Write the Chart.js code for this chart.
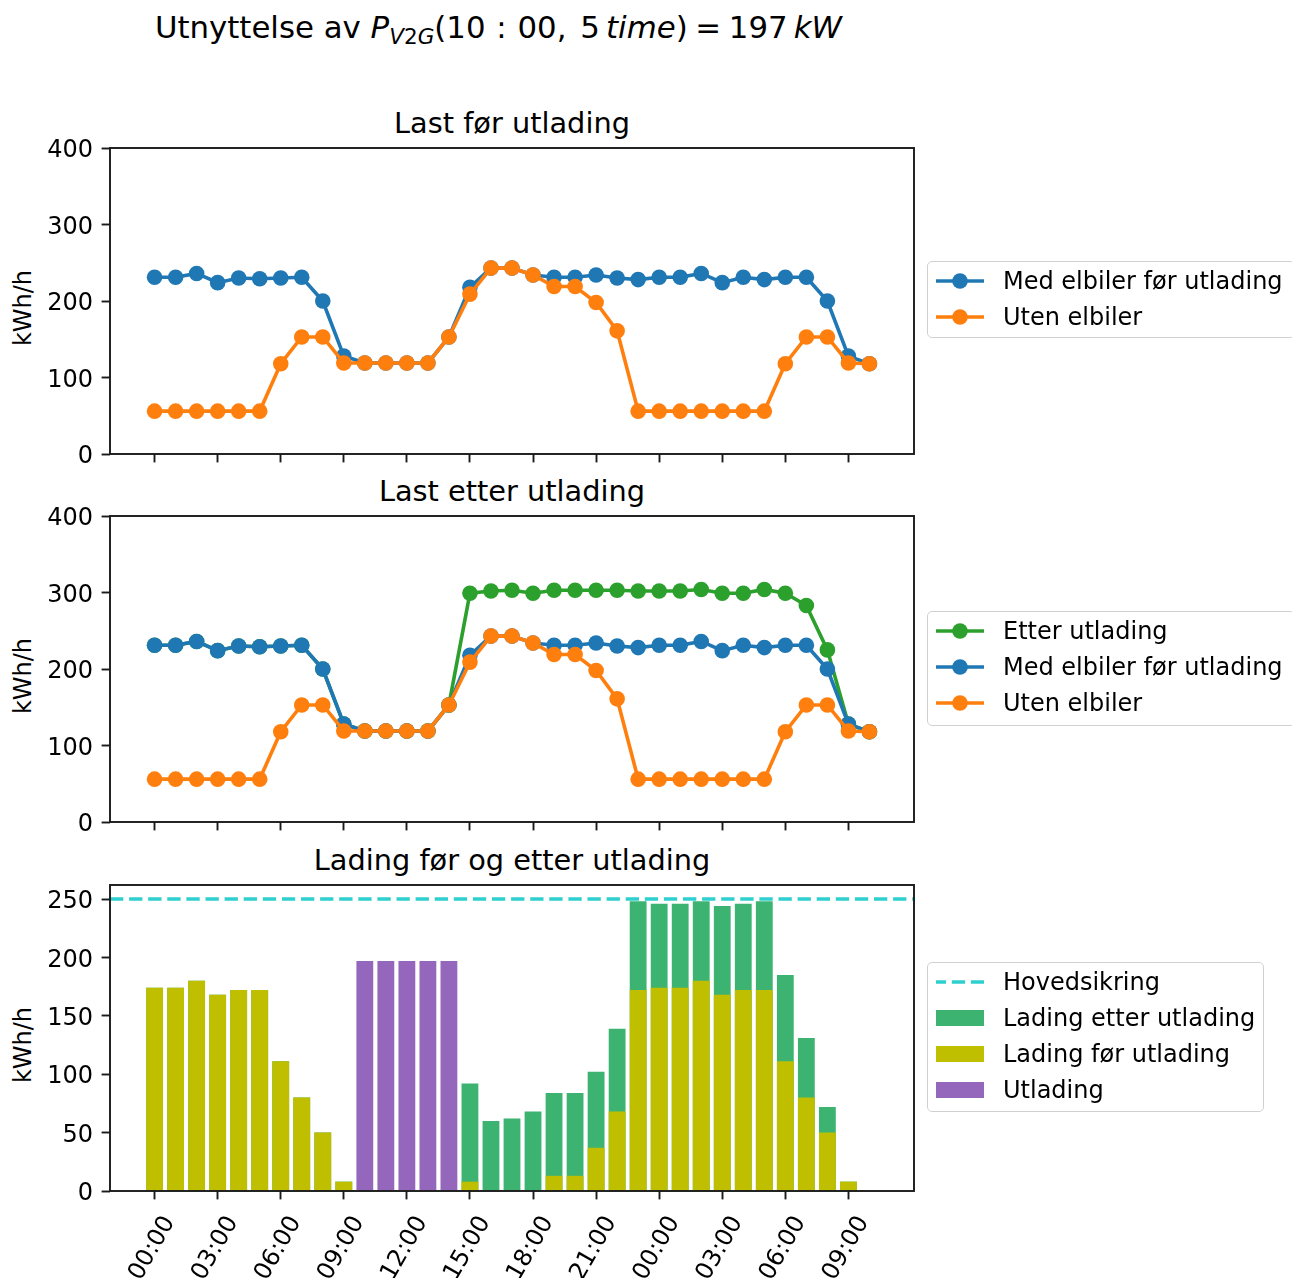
<!DOCTYPE html>
<html>
<head>
<meta charset="utf-8">
<title>Utnyttelse av V2G</title>
<script src="https://cdn.jsdelivr.net/npm/chart.js@4.4.1/dist/chart.umd.min.js"></script>
<style>
  html, body { margin: 0; padding: 0; background: #fff; }
  body { width: 1292px; height: 1278px; position: relative; overflow: hidden;
         font-family: 'DejaVu Sans', sans-serif; color: #000; }
  canvas { position: absolute; left: 0; }
  #suptitle { position: absolute; left: 0; width: 997px; top: 11.9px; text-align: center;
              font-size: 30.8px; line-height: 30.8px; white-space: nowrap; }
  #suptitle .m { font-style: italic; }
  #suptitle sub { font-size: 0.7em; vertical-align: -0.3em; line-height: 0; }
  .title { position: absolute; left: 110px; width: 804px; text-align: center;
           font-size: 28.8px; line-height: 28.8px; white-space: nowrap; }
  .ylabel { position: absolute; left: -36.7px; width: 120px; height: 24px; line-height: 24px;
            font-size: 24px; text-align: center; transform: rotate(-90deg); white-space: nowrap; }
  .legend { position: absolute; left: 927px; box-sizing: border-box; padding-top: 1px;
            background: rgba(255,255,255,0.8); border: 1.5px solid #d0d0d0; border-radius: 5px; }
  .row { height: 36px; display: flex; align-items: center; font-size: 24px; white-space: nowrap; }
  .row svg { margin-left: 8px; margin-right: 19px; flex: none; }
</style>
</head>
<body>
<div id="suptitle">Utnyttelse av <span class="m">P</span><sub><span class="m">V</span>2<span class="m">G</span></sub>(10&#8202;&#8197;:&#8197;&#8202;00,&#8201;&#8197;5&#8201;<span class="m">time</span>)&#8197;=&#8197;197&#8201;<span class="m">kW</span></div>

<div class="title" style="top:109.2px">Last før utlading</div>
<div class="title" style="top:477.2px">Last etter utlading</div>
<div class="title" style="top:846.2px">Lading før og etter utlading</div>

<div class="ylabel" style="top:296px">kWh/h</div>
<div class="ylabel" style="top:664px">kWh/h</div>
<div class="ylabel" style="top:1033px">kWh/h</div>

<canvas id="cFor" width="930" height="342" style="top:128px"></canvas>
<canvas id="cEtter" width="930" height="342" style="top:496px"></canvas>
<canvas id="cLading" width="930" height="413" style="top:865px"></canvas>

<div class="legend" style="top:261px; width:368px; height:77px">
  <div class="row"><svg width="48" height="20"><line x1="0" y1="10" x2="48" y2="10" stroke="#1f77b4" stroke-width="3.6"/><circle cx="24" cy="10" r="7.8" fill="#1f77b4"/></svg>Med elbiler før utlading</div>
  <div class="row"><svg width="48" height="20"><line x1="0" y1="10" x2="48" y2="10" stroke="#ff7f0e" stroke-width="3.6"/><circle cx="24" cy="10" r="7.8" fill="#ff7f0e"/></svg>Uten elbiler</div>
</div>
<div class="legend" style="top:611px; width:368px; height:115px">
  <div class="row"><svg width="48" height="20"><line x1="0" y1="10" x2="48" y2="10" stroke="#2ca02c" stroke-width="3.6"/><circle cx="24" cy="10" r="7.8" fill="#2ca02c"/></svg>Etter utlading</div>
  <div class="row"><svg width="48" height="20"><line x1="0" y1="10" x2="48" y2="10" stroke="#1f77b4" stroke-width="3.6"/><circle cx="24" cy="10" r="7.8" fill="#1f77b4"/></svg>Med elbiler før utlading</div>
  <div class="row"><svg width="48" height="20"><line x1="0" y1="10" x2="48" y2="10" stroke="#ff7f0e" stroke-width="3.6"/><circle cx="24" cy="10" r="7.8" fill="#ff7f0e"/></svg>Uten elbiler</div>
</div>
<div class="legend" style="top:962px; width:337px; height:150px">
  <div class="row"><svg width="48" height="20"><line x1="0" y1="10" x2="48" y2="10" stroke="#2fcfcf" stroke-width="3.6" stroke-dasharray="13.3 5.8" stroke-dashoffset="3.3"/></svg>Hovedsikring</div>
  <div class="row"><svg width="48" height="20"><rect x="0" y="2" width="48" height="16" fill="#3cb371"/></svg>Lading etter utlading</div>
  <div class="row"><svg width="48" height="20"><rect x="0" y="2" width="48" height="16" fill="#bfbf00"/></svg>Lading før utlading</div>
  <div class="row"><svg width="48" height="20"><rect x="0" y="2" width="48" height="16" fill="#9467bd"/></svg>Utlading</div>
</div>

<script>
// Hourly timeline: 00:00 on day one through 10:00 on day two
const timeLabels = [
  '00:00','01:00','02:00','03:00','04:00','05:00','06:00','07:00','08:00','09:00','10:00','11:00',
  '12:00','13:00','14:00','15:00','16:00','17:00','18:00','19:00','20:00','21:00','22:00','23:00',
  '00:00','01:00','02:00','03:00','04:00','05:00','06:00','07:00','08:00','09:00','10:00'
];
// Labelled ticks every third hour (index into timeLabels)
const tickIndex  = [0, 3, 6, 9, 12, 15, 18, 21, 24, 27, 30, 33];
const tickLabels = ['00:00','03:00','06:00','09:00','12:00','15:00','18:00','21:00','00:00','03:00','06:00','09:00'];
const loadTicks   = [0, 100, 200, 300, 400];
const chargeTicks = [0, 50, 100, 150, 200, 250];

// Load (kWh/h)
const utenElbiler   = [56,56,56,56,56,56,118,153,153,119,119,119,119,119,153,209,243,243,234,219,219,198,161,
                       56,56,56,56,56,56,56,118,153,153,119,118];
const medElbilerFor = [231,231,236,224,230,229,230,231,200,128,119,119,119,119,153,218,243,243,234,231,231,234,230,
                       228,231,231,236,224,231,228,231,231,200,128,118];
const etterUtlading = [231,231,236,224,230,229,230,231,200,128,119,119,119,119,153,299,302,303,299,303,303,303,303,
                       302,302,302,304,299,299,304,299,283,225,128,118];

// Charging / discharging (kWh/h)
const ladingFor   = [174,174,180,168,172,172,111,80,50,8,0,0,0,0,0,8,0,0,0,13,13,37,68,
                     172,174,174,180,168,172,172,111,80,50,8,0];
const ladingEtter = [174,174,180,168,172,172,111,80,50,8,0,0,0,0,0,92,60,62,68,84,84,102,139,
                     248,246,246,248,244,246,248,185,131,72,8,0];
const utlading    = [0,0,0,0,0,0,0,0,0,0,197,197,197,197,197,0,0,0,0,0,0,0,0,
                     0,0,0,0,0,0,0,0,0,0,0,0];
const hovedsikring = 250;

const C_BLUE = '#1f77b4', C_ORANGE = '#ff7f0e', C_GREEN = '#2ca02c';
const C_FUSE = '#2fcfcf', C_AFTER = '#3cb371', C_BEFORE = '#bfbf00', C_DISCH = '#9467bd';
const INK = '#1a1a1a';
const X_MIN = -2.12, X_MAX = 36.12;

Chart.defaults.font.family = "'DejaVu Sans', sans-serif";
Chart.defaults.font.size = 24;
Chart.defaults.color = '#000';

// Four-sided axes frame drawn above the data
const frame = {
  id: 'frame',
  afterDatasetsDraw(chart) {
    const { ctx, chartArea: a } = chart;
    ctx.save();
    ctx.strokeStyle = INK;
    ctx.lineWidth = 1.9;
    ctx.strokeRect(a.left, a.top, a.right - a.left, a.bottom - a.top);
    ctx.restore();
  }
};

const tickGrid = { display: true, drawOnChartArea: false, drawTicks: true, tickLength: 8.4,
                   tickWidth: 1.9, tickColor: INK, offset: false };

function xAxis(showLabels, height) {
  return {
    type: 'linear', min: X_MIN, max: X_MAX, offset: false,
    grid: tickGrid,
    border: { display: false },
    afterBuildTicks: s => { s.ticks = tickIndex.map(v => ({ value: v })); },
    ticks: { display: showLabels, autoSkip: false, minRotation: 60, maxRotation: 60,
             padding: 11.8, labelOffset: 15, callback: (v, i) => tickLabels[i] },
    afterFit: s => { s.height = height; s.paddingLeft = 0; s.paddingRight = 0; }
  };
}
function yAxis(max, ticks) {
  return {
    type: 'linear', min: 0, max,
    grid: tickGrid,
    border: { display: false },
    afterBuildTicks: s => { s.ticks = ticks.map(v => ({ value: v })); },
    ticks: { padding: 8.5, labelOffset: 3, callback: v => String(v) },
    afterFit: s => { s.width = 110; s.paddingTop = 0; s.paddingBottom = 0; }
  };
}
const xy = arr => arr.map((v, i) => ({ x: i, y: v }));

function lineSet(label, arr, color, order) {
  return { type: 'line', label, data: xy(arr), order,
           borderColor: color, backgroundColor: color, borderWidth: 3.6, tension: 0,
           pointRadius: 7.8, pointHoverRadius: 7.8, pointBackgroundColor: color,
           pointBorderWidth: 0, clip: false };
}

const common = {
  responsive: false, animation: false, devicePixelRatio: 1, events: [],
  layout: { padding: { top: 20, right: 16, bottom: 0, left: 0 } },
  plugins: { legend: { display: false }, tooltip: { enabled: false }, title: { display: false } }
};

new Chart(document.getElementById('cFor'), {
  type: 'line',
  data: { datasets: [
    lineSet('Med elbiler før utlading', medElbilerFor, C_BLUE, 2),
    lineSet('Uten elbiler', utenElbiler, C_ORANGE, 1)
  ] },
  options: { ...common, scales: { x: xAxis(false, 16), y: yAxis(400, loadTicks) } },
  plugins: [frame]
});

new Chart(document.getElementById('cEtter'), {
  type: 'line',
  data: { datasets: [
    lineSet('Etter utlading', etterUtlading, C_GREEN, 3),
    lineSet('Med elbiler før utlading', medElbilerFor, C_BLUE, 2),
    lineSet('Uten elbiler', utenElbiler, C_ORANGE, 1)
  ] },
  options: { ...common, scales: { x: xAxis(false, 16), y: yAxis(400, loadTicks) } },
  plugins: [frame]
});

const barOpts = { grouped: false, borderWidth: 0, categoryPercentage: 1, barPercentage: 0.8 };
new Chart(document.getElementById('cLading'), {
  type: 'bar',
  data: { datasets: [
    { type: 'line', label: 'Hovedsikring', order: 0,
      data: [{ x: X_MIN, y: hovedsikring }, { x: X_MAX, y: hovedsikring }],
      borderColor: C_FUSE, borderWidth: 3.6, borderDash: [13.3, 5.8], pointRadius: 0, tension: 0 },
    { label: 'Lading etter utlading', data: xy(ladingEtter), backgroundColor: C_AFTER, order: 3, ...barOpts },
    { label: 'Lading før utlading',   data: xy(ladingFor),   backgroundColor: C_BEFORE, order: 2, ...barOpts },
    { label: 'Utlading',              data: xy(utlading),    backgroundColor: C_DISCH, order: 1, ...barOpts }
  ] },
  options: { ...common, scales: { x: xAxis(true, 87), y: yAxis(262, chargeTicks) } },
  plugins: [frame]
});
</script>
</body>
</html>
